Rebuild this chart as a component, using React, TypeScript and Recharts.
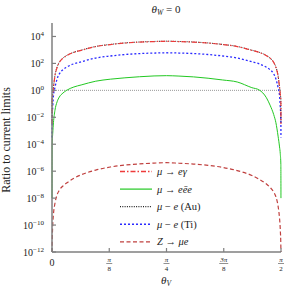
import { LineChart, Line, XAxis, YAxis, ReferenceLine } from 'recharts';

// theta_V samples (rad), denser near the edges where the curves plunge
const THETA = [
  0.0003, 0.001, 0.005, 0.01, 0.02, 0.035, 0.05, 0.075, 0.1, 0.15, 0.2, 0.3, 0.4, 0.5, 0.6, 0.7,
  0.7854,
  0.8708, 0.9708, 1.0708, 1.1708, 1.2708, 1.3708, 1.4208, 1.4708, 1.4958, 1.5208, 1.5358, 1.5508, 1.5608, 1.5658,
  1.5698, 1.5705,
];

// log10 of ratio to current limits
const MU_E_GAMMA = [
  -2.5, -0.8, -0.3, 0.2, 1.05, 1.7, 2.07, 2.38, 2.57, 2.82, 2.97, 3.25, 3.4, 3.51, 3.58, 3.62,
  3.64,
  3.62, 3.58, 3.51, 3.4, 3.25, 2.97, 2.82, 2.57, 2.38, 2.07, 1.7, 1.05, 0.2, -0.3, -0.8, -2.5,
];
const MU_3E = [
  -8, -4.0, -3.2, -2.4, -1.5, -0.85, -0.5, -0.2, 0.0, 0.25, 0.4, 0.68, 0.83, 0.93, 1.01, 1.07,
  1.09,
  1.06, 1.0, 0.9, 0.77, 0.62, 0.2, 0.03, -0.55, -1.1, -1.8, -2.4, -3.4, -4.2, -4.7, -5.5, -8,
];
const MU_E_AU = [
  -2.4, -0.7, -0.25, 0.25, 1.1, 1.73, 2.09, 2.4, 2.59, 2.83, 2.98, 3.26, 3.41, 3.52, 3.59, 3.63,
  3.65,
  3.63, 3.59, 3.52, 3.41, 3.26, 2.98, 2.83, 2.59, 2.4, 2.09, 1.73, 1.1, 0.25, -0.25, -0.7, -2.4,
];
const MU_E_TI = [
  -3.5, -2.2, -1.2, -0.4, 0.2, 0.85, 1.22, 1.53, 1.72, 1.97, 2.12, 2.4, 2.55, 2.66, 2.73, 2.77,
  2.79,
  2.77, 2.73, 2.66, 2.55, 2.4, 2.12, 1.97, 1.72, 1.53, 1.22, 0.85, 0.2, -0.4, -1.2, -2.2, -3.5,
];
const Z_MU_E = [
  -12.5, -11.5, -10.0, -9.2, -8.4, -7.75, -7.42, -7.1, -6.88, -6.53, -6.27, -5.92, -5.69, -5.55, -5.46, -5.4,
  -5.37,
  -5.41, -5.47, -5.57, -5.72, -5.96, -6.32, -6.6, -6.95, -7.2, -7.55, -7.9, -8.6, -9.5, -10.3, -11.6, -12.5,
];

const X_TICKS = [0, Math.PI / 8, Math.PI / 4, (3 * Math.PI) / 8, Math.PI / 2];
const X_TICK_LABELS = [['0'], ['π', '8'], ['π', '4'], ['3π', '8'], ['π', '2']];
const Y_TICK_EXP = [-12, -10, -8, -6, -4, -2, 0, 2, 4];

const data = THETA.map((t, i) => ({
  theta: t,
  meg: 10 ** MU_E_GAMMA[i],
  m3e: 10 ** MU_3E[i],
  au: 10 ** MU_E_AU[i],
  ti: 10 ** MU_E_TI[i],
  z: 10 ** Z_MU_E[i],
}));

const FONT = '"Liberation Serif", "DejaVu Serif", serif';
const FRAME = '#7f7f7f';

// [text, italic] pieces for each legend label
const SERIES = [
  { key: 'meg', color: '#ee3b3b', dash: '5 2 1.5 2', width: 1.2, label: [['μ', true], [' → ', false], ['eγ', true]] },
  { key: 'm3e', color: '#22c822', dash: undefined, width: 1, label: [['μ', true], [' → ', false], ['eēe', true]] },
  { key: 'au', color: '#222222', dash: '1 1.3', width: 1, label: [['μ', true], [' − ', false], ['e', true], [' (Au)', false]] },
  { key: 'ti', color: '#2a2aff', dash: '2 2', width: 1.3, label: [['μ', true], [' − ', false], ['e', true], [' (Ti)', false]] },
  { key: 'z', color: '#c0403f', dash: '4 2.5', width: 1.2, label: [['Z', true], [' → ', false], ['μe', true]] },
];

function BottomTick({ x, y, payload }: any) {
  const i = X_TICKS.findIndex((v) => Math.abs(v - payload.value) < 1e-9);
  const lab = X_TICK_LABELS[i] || [''];
  return (
    <g>
      <line x1={x} x2={x} y1={y} y2={y - 4} stroke={FRAME} strokeWidth={1.2} />
      {lab.length === 1 ? (
        <text x={x} y={y + 14} textAnchor="middle" fontSize={10} fontFamily={FONT} fill="#222">{lab[0]}</text>
      ) : (
        <g fontFamily={FONT} fill="#222">
          <text x={x} y={y + 10} textAnchor="middle" fontSize={7} fontStyle="italic">{lab[0]}</text>
          <line x1={x - (lab[0].length > 1 ? 4.5 : 3)} x2={x + (lab[0].length > 1 ? 4.5 : 3)} y1={y + 11.5} y2={y + 11.5} stroke="#222" strokeWidth={0.5} />
          <text x={x} y={y + 18.5} textAnchor="middle" fontSize={7}>{lab[1]}</text>
        </g>
      )}
    </g>
  );
}

function TopTick({ x, y }: any) {
  return <line x1={x} x2={x} y1={y} y2={y + 4} stroke={FRAME} strokeWidth={1.2} />;
}

function LeftTick({ x, y, payload }: any) {
  const e = Math.round(Math.log10(payload.value));
  return (
    <g>
      <line x1={x} x2={x + 4} y1={y} y2={y} stroke={FRAME} strokeWidth={1.2} />
      <text x={x - 8} y={y + 3.5} textAnchor="end" fontSize={10} fontFamily={FONT} fill="#222">
        10<tspan fontSize={7} dy={-4}>{e < 0 ? '−' + -e : e}</tspan>
      </text>
    </g>
  );
}

function RightTick({ x, y }: any) {
  return <line x1={x} x2={x - 4} y1={y} y2={y} stroke={FRAME} strokeWidth={1.2} />;
}

function LegendBox() {
  return (
    <g fontFamily={FONT} fontSize={10.5} fill="#222">
      {SERIES.map((s, i) => {
        const cy = 171.5 + i * 17.6;
        return (
          <g key={s.key}>
            <line x1={120} x2={152} y1={cy} y2={cy} stroke={s.color} strokeWidth={s.width + 0.2} strokeDasharray={s.dash} />
            <text x={157} y={cy + 3.5}>
              {s.label.map(([t, it], j) => (
                <tspan key={j} fontStyle={it ? 'italic' : 'normal'}>{t}</tspan>
              ))}
            </text>
          </g>
        );
      })}
    </g>
  );
}

export default function App() {
  return (
    <div style={{ position: 'absolute', left: 0, top: 0, background: 'white' }}>
      <LineChart width={285} height={287} data={data} margin={{ top: 23, right: 4, bottom: 9, left: 8 }}>
        <XAxis
          dataKey="theta"
          type="number"
          domain={[0, Math.PI / 2]}
          ticks={X_TICKS}
          interval={0}
          tickSize={0}
          tickMargin={0}
          tickLine={false}
          tick={<BottomTick />}
          height={26}
          axisLine={{ stroke: FRAME, strokeWidth: 1.5 }}
        />
        <XAxis
          xAxisId="top"
          orientation="top"
          type="number"
          domain={[0, Math.PI / 2]}
          ticks={X_TICKS}
          interval={0}
          tickSize={0}
          tickMargin={0}
          tickLine={false}
          tick={<TopTick />}
          height={0}
          axisLine={{ stroke: FRAME, strokeWidth: 1.5 }}
        />
        <YAxis
          scale="log"
          type="number"
          domain={[1e-12, 1e5]}
          allowDataOverflow
          ticks={Y_TICK_EXP.map((e) => 10 ** e)}
          interval={0}
          tickSize={0}
          tickMargin={0}
          tickLine={false}
          tick={<LeftTick />}
          width={44}
          axisLine={{ stroke: FRAME, strokeWidth: 1.5 }}
        />
        <YAxis
          yAxisId="right"
          orientation="right"
          scale="log"
          type="number"
          domain={[1e-12, 1e5]}
          allowDataOverflow
          ticks={Y_TICK_EXP.map((e) => 10 ** e)}
          interval={0}
          tickSize={0}
          tickMargin={0}
          tickLine={false}
          tick={<RightTick />}
          width={0}
          axisLine={{ stroke: FRAME, strokeWidth: 1.5 }}
        />
        <ReferenceLine y={1} stroke="#999" strokeDasharray="1 1" strokeWidth={1} />
        {[...SERIES].reverse().map((s) => (
          <Line
            key={s.key}
            dataKey={s.key}
            type="monotone"
            stroke={s.color}
            strokeWidth={s.width}
            strokeDasharray={s.dash}
            dot={false}
            isAnimationActive={false}
          />
        ))}
        <LegendBox />
        <text x={166} y={13} textAnchor="middle" fontFamily={FONT} fontSize={11} fill="#222">
          <tspan fontStyle="italic">θ</tspan>
          <tspan fontStyle="italic" fontSize={7.5} dy={2}>W</tspan>
          <tspan dy={-2}> = 0</tspan>
        </text>
        <text x={10} y={140} transform="rotate(-90 10 140)" textAnchor="middle" fontFamily={FONT} fontSize={12} fill="#222">
          Ratio to current limits
        </text>
        <text x={166} y={284} textAnchor="middle" fontFamily={FONT} fontSize={11} fill="#222">
          <tspan fontStyle="italic">θ</tspan>
          <tspan fontStyle="italic" fontSize={7.5} dy={2}>V</tspan>
        </text>
      </LineChart>
    </div>
  );
}
